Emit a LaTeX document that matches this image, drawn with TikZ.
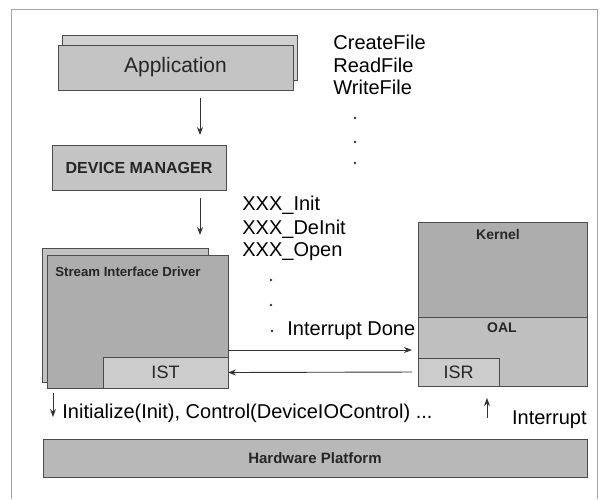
\documentclass[tikz,border=0pt]{standalone}
\usepackage{fontspec}
\setmainfont{Liberation Sans}
\usetikzlibrary{arrows.meta}
\begin{document}
\begin{tikzpicture}[x=0.5pt,y=-0.5pt,
  box/.style={draw=black!70, line width=0.5pt, inner sep=0pt, outer sep=0pt},
  lbl/.style={font=\fontsize{10}{12}\selectfont, inner sep=0pt, anchor=west},
  blbl/.style={font=\fontsize{7}{8}\selectfont\bfseries, inner sep=0pt, text=black!85},
  conn/.style={draw=black!80, line width=0.45pt, -{Stealth[length=4pt,width=3pt]}},
  dotn/.style={circle, fill=black!80, inner sep=0pt, minimum size=1.3pt}
]
\useasboundingbox (0,0) rectangle (600,499);
\draw[black!35, line width=0.4pt] (11,499) -- (11,9) -- (597,9) -- (597,499);

% Application
\node[box, fill=black!18, minimum width=117.5pt, minimum height=22.5pt] (appback) at (179.5,57.5) {};
\node[box, fill=black!23, minimum width=117.5pt, minimum height=22.5pt,
      font=\fontsize{10.5}{12}\selectfont, text=black!85] (app) at (175.5,67.5) {Application};

% Device manager
\node[box, fill=black!23, minimum width=87pt, minimum height=22.5pt,
      font=\fontsize{8}{9}\selectfont\bfseries, text=black!85] (dm) at (139,167.5) {DEVICE MANAGER};

% Stream interface driver
\node[box, fill=black!24, minimum width=83pt, minimum height=67pt] (sidback) at (125,315) {};
\node[box, fill=black!32, minimum width=90.5pt, minimum height=66.5pt] (sid) at (137.5,321.5) {};
\node[blbl, font=\fontsize{6.6}{8}\selectfont\bfseries] (sidlbl) at (128,272) {Stream Interface Driver};
\node[box, fill=black!20, minimum width=62.5pt, minimum height=15.5pt,
      font=\fontsize{9}{10}\selectfont, text=black!85] (ist) at (165.5,372.5) {IST};

% Kernel
\node[box, fill=black!32, minimum width=84.5pt, minimum height=47.5pt] (kernel) at (502.5,269.5) {};
\node[blbl] (kernellbl) at (498,234) {Kernel};
\node[box, fill=black!25, minimum width=84.5pt, minimum height=34.5pt] (oal) at (502.5,351.5) {};
\node[blbl] (oallbl) at (502,328) {OAL};
\node[box, fill=black!20, minimum width=40.5pt, minimum height=14pt,
      font=\fontsize{9}{10}\selectfont, text=black!85] (isr) at (458.5,372) {ISR};

% Hardware
\node[box, fill=black!28, minimum width=272pt, minimum height=19pt,
      font=\fontsize{7.5}{9}\selectfont\bfseries, text=black!85] (hw) at (315,458) {Hardware Platform};

% Connectors
\coordinate (ax) at (200,0);
\draw[conn, shorten <=4pt, shorten >=5pt] (app.south -| ax) -- (dm.north -| ax);
\draw[conn, shorten <=4pt, shorten >=6.5pt] (dm.south -| ax) -- (sidback.north -| ax);
\coordinate (yd) at (0,350);
\draw[conn, shorten >=3pt] (sid.east |- yd) -- (oal.west |- yd);
\draw[conn, shorten <=3pt] (isr.west) -- (ist.east);
\coordinate (xl) at (53,0);
\draw[conn, shorten <=2.5pt, shorten >=11pt] (sid.south -| xl) -- (hw.north -| xl);
\coordinate (xr) at (487,0);
\draw[conn, shorten <=10.5pt, shorten >=6pt] (hw.north -| xr) -- (oal.south -| xr);

% API lists
\node[lbl] (cf) at (333,42) {CreateFile};
\node[lbl] (rf) at (333,65) {ReadFile};
\node[lbl] (wf) at (333,87) {WriteFile};
\node[dotn] (d1) at (355,118) {};
\node[dotn] (d2) at (355,142) {};
\node[dotn] (d3) at (355,163) {};

\node[lbl] (xi) at (242,205) {XXX\_Init};
\node[lbl] (xd) at (242,229) {XXX\_DeInit};
\node[lbl] (xo) at (242,252) {XXX\_Open};
\node[dotn] (d4) at (271,280) {};
\node[dotn] (d5) at (271,305) {};
\node[dotn] (d6) at (272,331) {};
\node[lbl] (idone) at (287,331) {Interrupt Done};

\node[lbl] (init) at (62,413) {Initialize(Init), Control(DeviceIOControl) ...};
\node[lbl, anchor=east] (intr) at (587,420) {Interrupt};
\end{tikzpicture}
\end{document}
